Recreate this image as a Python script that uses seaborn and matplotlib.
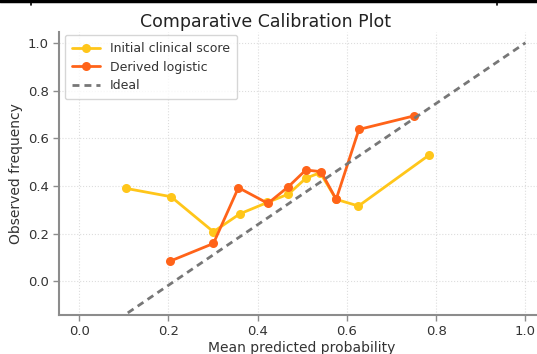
import numpy as np
import pandas as pd
import seaborn as sns
import matplotlib.pyplot as plt
from matplotlib.lines import Line2D

# calibration points
initial_x = [0.105, 0.206, 0.301, 0.360, 0.422, 0.469, 0.508, 0.540, 0.576, 0.626, 0.783]
initial_y = [0.390, 0.355, 0.208, 0.283, 0.331, 0.366, 0.432, 0.456, 0.344, 0.316, 0.528]

derived_x = [0.204, 0.301, 0.357, 0.423, 0.469, 0.508, 0.542, 0.576, 0.627, 0.751]
derived_y = [0.085, 0.159, 0.393, 0.327, 0.397, 0.467, 0.460, 0.344, 0.637, 0.694]

ideal_x = [0.087, 1.0]
ideal_y = [-0.16, 1.0]

ticks = [0.0, 0.2, 0.4, 0.6, 0.8, 1.0]

df = pd.concat([
    pd.DataFrame({'x': initial_x, 'y': initial_y, 'model': 'Initial clinical score'}),
    pd.DataFrame({'x': derived_x, 'y': derived_y, 'model': 'Derived logistic'}),
])

sns.set_style('whitegrid', {'grid.linestyle': ':', 'grid.color': '#dddddd',
                            'axes.edgecolor': '#8c8c8c'})
plt.rcParams['font.family'] = ['DejaVu Sans']

fig = plt.figure(figsize=(5.37, 3.54), dpi=100)
ax = fig.add_axes([0.110, 0.110, 0.905, 0.7994])

palette = {'Initial clinical score': '#ffc61a', 'Derived logistic': '#ff6319'}
sns.lineplot(data=df, x='x', y='y', hue='model', palette=palette, marker='o',
             markersize=6.5, markeredgewidth=0, linewidth=2, sort=False,
             estimator=None, ax=ax)
ax.plot(ideal_x, ideal_y, linestyle='--', color='#777777', linewidth=2,
        dashes=(2.5, 1.8), label='Ideal')

ax.set_xlim(-0.0448, 1.044)
ax.set_ylim(-0.141, 1.045)
ax.set_xticks(ticks)
ax.set_yticks(ticks)
ax.tick_params(labelsize=9.5, colors='#333333', length=4, width=1, color='#8c8c8c',
               left=True, bottom=True)
ax.set_xlabel('Mean predicted probability', fontsize=10, color='#333333', labelpad=2)
ax.set_ylabel('Observed frequency', fontsize=10, color='#333333', labelpad=3)
for side in ['top', 'right']:
    ax.spines[side].set_visible(False)
for side in ['left', 'bottom']:
    ax.spines[side].set_linewidth(1.5)

leg = ax.legend(loc='upper left', bbox_to_anchor=(0.012, 0.99), borderaxespad=0,
                fontsize=9, frameon=True, handlelength=2.2, labelspacing=0.42,
                borderpad=0.6)
leg.get_frame().set_edgecolor('#cccccc')
for t in leg.get_texts():
    t.set_color('#333333')

fig.text(0.494, 1 - 22 / 354, 'Comparative Calibration Plot', ha='center', va='center',
         fontsize=12.5, color='#222222')

# border strip at the very top of the screenshot
fig.add_artist(Line2D([0, 1], [0.996, 0.996], color='black', linewidth=2.5))
fig.add_artist(Line2D([31 / 537, 31 / 537], [0.985, 1], color='black', linewidth=1.2))
fig.add_artist(Line2D([497 / 537, 497 / 537], [0.985, 1], color='black', linewidth=1.2))

fig.savefig('out.png', dpi=100)
